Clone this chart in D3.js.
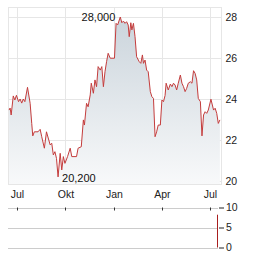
<!DOCTYPE html>
<html lang="de">
<head>
<meta charset="UTF-8">
<script src="https://d3js.org/d3.v7.min.js"></script>
<style>
  body { margin: 0; background: #fff; }
  svg text { font-family: Arial, "Liberation Sans", sans-serif; }
</style>
</head>
<body>
<div id="chart"></div>
<script>
// price series
const dates = [
  "2023-06-16","2023-06-18","2023-06-20","2023-06-24","2023-06-27","2023-06-30",
  "2023-07-04","2023-07-07","2023-07-10","2023-07-13","2023-07-16","2023-07-21",
  "2023-07-26","2023-07-29","2023-07-31","2023-08-03","2023-08-10","2023-08-14",
  "2023-08-17","2023-08-22","2023-08-26","2023-09-02","2023-09-05","2023-09-08",
  "2023-09-11","2023-09-14","2023-09-17","2023-09-21","2023-09-24","2023-09-27",
  "2023-09-30","2023-10-05","2023-10-10","2023-10-13","2023-10-22","2023-10-25",
  "2023-10-31","2023-11-04","2023-11-06","2023-11-10","2023-11-13","2023-11-17",
  "2023-11-19","2023-11-23","2023-11-26","2023-11-29","2023-12-02","2023-12-06",
  "2023-12-09","2023-12-12","2023-12-15","2023-12-18","2023-12-21","2023-12-25",
  "2024-01-02","2024-01-05","2024-01-08","2024-01-13","2024-01-16","2024-01-19",
  "2024-01-22","2024-01-25","2024-01-28","2024-01-30","2024-02-02","2024-02-04",
  "2024-02-07","2024-02-10","2024-02-13","2024-02-18","2024-02-21","2024-02-24",
  "2024-02-26","2024-02-29","2024-03-03","2024-03-06","2024-03-10","2024-03-13",
  "2024-03-16","2024-03-19","2024-03-22","2024-03-25","2024-03-29","2024-04-01",
  "2024-04-04","2024-04-07","2024-04-09","2024-04-13","2024-04-17","2024-04-20",
  "2024-04-23","2024-04-26","2024-04-29","2024-05-02","2024-05-06","2024-05-09",
  "2024-05-12","2024-05-15","2024-05-18","2024-05-21","2024-05-25","2024-05-28",
  "2024-05-31","2024-06-03","2024-06-06","2024-06-09","2024-06-13","2024-06-16",
  "2024-06-19","2024-06-22","2024-06-25","2024-06-28","2024-07-03","2024-07-08",
  "2024-07-11","2024-07-14","2024-07-17","2024-07-20"
];
const prices = [
  23.46,23.56,23.22,24.15,23.95,24.18,
  23.87,24.0,23.80,24.0,23.87,24.57,
  23.79,22.81,22.20,22.40,22.40,22.52,
  22.16,21.60,22.40,21.76,21.84,21.27,
  21.43,21.1,20.2,21.35,20.54,21.19,
  20.86,21.19,21.60,21.19,21.19,21.60,
  21.67,22.98,22.73,23.79,23.62,24.20,
  24.77,24.28,24.93,24.60,25.58,25.41,
  25.58,24.60,25.33,25.82,26.23,25.99,
  25.99,27.69,27.61,28.0,27.72,27.80,
  27.69,27.77,27.61,27.04,27.72,27.37,
  27.69,27.04,26.06,25.82,25.74,26.15,
  25.74,25.90,25.41,25.33,24.36,24.11,
  24.03,22.16,22.40,22.73,22.73,23.95,
  23.87,24.17,24.77,24.44,24.73,24.60,
  24.77,24.68,24.44,24.77,25.17,24.77,
  24.60,24.36,24.52,24.77,24.84,24.77,
  25.38,25.25,24.93,24.03,23.87,22.20,
  23.22,23.38,23.30,23.46,23.99,23.46,
  23.55,23.30,22.81,22.98
];
const priceTicks = [20, 22, 24, 26, 28];
const monthTicks = ["2023-07-01","2023-10-01","2024-01-01","2024-04-01","2024-07-01"];
const monthNames = ["Jul","Okt","Jan","Apr","Jul"];
const volDates = ["2024-07-15"];
const volValues = [8.2];
const volTicks = [0, 5, 10];
const maxLabel = "28,000";
const minLabel = "20,200";

const W = 264, H = 255;
const plotL = 8, plotR = 221.5, plotT = 7, plotB = 184;
const parse = d3.timeParse("%Y-%m-%d");
const data = dates.map((d, i) => ({ date: parse(d), v: prices[i] }));

const svg = d3.select("#chart").append("svg")
  .attr("width", W).attr("height", H);

const x = d3.scaleTime()
  .domain([parse("2023-06-14"), parse("2024-07-24")])
  .range([plotL, 222]);
const y = d3.scaleLinear().domain([20, 28]).range([181, 17]);
const yv = d3.scaleLinear().domain([0, 10]).range([247.5, 207.5]);

const defs = svg.append("defs");
const grad = defs.append("linearGradient")
  .attr("id", "fillGrad").attr("gradientUnits", "userSpaceOnUse")
  .attr("x1", 0).attr("x2", 0).attr("y1", plotT).attr("y2", plotB);
grad.append("stop").attr("offset", "0%").attr("stop-color", "#c8d2da");
grad.append("stop").attr("offset", "100%").attr("stop-color", "#f8f9fa");

// grid
const grid = svg.append("g").attr("stroke", "#e6e6e6").attr("stroke-width", 1);
priceTicks.forEach(t => {
  grid.append("line").attr("x1", plotL).attr("x2", plotR)
    .attr("y1", Math.round(y(t)) + 0.5).attr("y2", Math.round(y(t)) + 0.5);
});
monthTicks.forEach(t => {
  const px = Math.round(x(parse(t))) + 0.5;
  grid.append("line").attr("x1", px).attr("x2", px).attr("y1", plotT).attr("y2", plotB);
});
svg.append("rect")
  .attr("x", plotL + 0.5).attr("y", plotT + 0.5)
  .attr("width", plotR - plotL - 0.5).attr("height", plotB - plotT)
  .attr("fill", "none").attr("stroke", "#e6e6e6");

// area + line
svg.append("path").datum(data)
  .attr("fill", "url(#fillGrad)")
  .attr("d", d3.area().x(d => x(d.date)).y0(plotB).y1(d => y(d.v)));
svg.append("path").datum(data)
  .attr("fill", "none").attr("stroke", "#c43c3c").attr("stroke-width", 1)
  .attr("d", d3.line().x(d => x(d.date)).y(d => y(d.v)));

// min / max labels
const maxP = data[d3.maxIndex(data, d => d.v)];
const minP = data[d3.minIndex(data, d => d.v)];
svg.append("text").attr("x", x(maxP.date) - 5).attr("y", y(maxP.v) + 4)
  .attr("text-anchor", "end").attr("font-size", "11px").attr("fill", "#111")
  .text(maxLabel);
svg.append("text").attr("x", x(minP.date) + 4).attr("y", y(minP.v) + 5)
  .attr("font-size", "11px").attr("fill", "#111")
  .text(minLabel);

// price axis (right)
const yAxis = svg.append("g")
  .attr("transform", `translate(${plotR},0)`)
  .call(d3.axisRight(y).tickValues(priceTicks).tickSize(0).tickPadding(4).tickFormat(d3.format("d")));
yAxis.select(".domain").remove();
yAxis.selectAll("text").attr("font-size", "10.5px").attr("fill", "#222")
  .attr("font-family", "Arial, 'Liberation Sans', sans-serif");

// month labels
const xAxis = svg.append("g")
  .attr("transform", `translate(0,${plotB})`)
  .call(d3.axisBottom(x).tickValues(monthTicks.map(parse)).tickSize(0).tickPadding(7)
    .tickFormat((d, i) => monthNames[i]));
xAxis.select(".domain").remove();
xAxis.selectAll("text").attr("font-size", "10.5px").attr("fill", "#222")
  .attr("font-family", "Arial, 'Liberation Sans', sans-serif");

// volume panel
const vg = svg.append("g");
volTicks.forEach(t => {
  vg.append("line").attr("x1", plotL).attr("x2", 218)
    .attr("y1", Math.round(yv(t)) + 0.5).attr("y2", Math.round(yv(t)) + 0.5)
    .attr("stroke", "#cccccc");
});
monthTicks.forEach(t => {
  const px = Math.round(x(parse(t))) + 0.5;
  vg.append("line").attr("x1", px).attr("x2", px)
    .attr("y1", yv(10)).attr("y2", yv(10) + 3).attr("stroke", "#333");
});
vg.selectAll("rect.vol").data(volDates.map((d, i) => ({ date: parse(d), v: volValues[i] })))
  .join("rect").attr("class", "vol")
  .attr("x", d => Math.round(x(d.date))).attr("width", 1)
  .attr("y", d => yv(d.v)).attr("height", d => yv(0) - yv(d.v))
  .attr("fill", "#a81e1e");
const vAxis = vg.append("g")
  .attr("transform", "translate(219,0)")
  .call(d3.axisRight(yv).tickValues(volTicks).tickSize(5).tickPadding(2));
vAxis.select(".domain").remove();
vAxis.selectAll("line").attr("stroke", "#222");
vAxis.selectAll("text").attr("font-size", "10.5px").attr("fill", "#222")
  .attr("font-family", "Arial, 'Liberation Sans', sans-serif");
</script>
</body>
</html>
